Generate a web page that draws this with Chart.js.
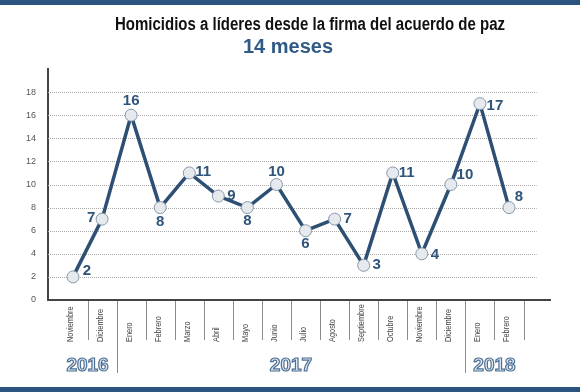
<!DOCTYPE html>
<html>
<head>
<meta charset="utf-8">
<script src="https://cdn.jsdelivr.net/npm/chart.js@4"></script>
<style>
  html, body { margin: 0; padding: 0; background: #fff; }
  #wrap { width: 580px; height: 392px; position: relative; }
</style>
</head>
<body>
<div id="wrap"><canvas id="chart" width="580" height="392"></canvas></div>
<script>
const TITLE = 'Homicidios a líderes desde la firma del acuerdo de paz';
const SUBTITLE = '14 meses';

const MONTHS = ['Noviembre', 'Diciembre', 'Enero', 'Febrero', 'Marzo', 'Abril', 'Mayo', 'Junio',
  'Julio', 'Agosto', 'Septiembre', 'Octubre', 'Noviembre', 'Diciembre', 'Enero', 'Febrero'];
const HOMICIDES = [2, 7, 16, 8, 11, 9, 8, 10, 6, 7, 3, 11, 4, 10, 17, 8];
const Y_TICKS = [0, 2, 4, 6, 8, 10, 12, 14, 16, 18];
// year label, first month index, last month index
const YEARS = [['2016', 0, 1], ['2017', 2, 13], ['2018', 14, 15]];

const BLUE = '#2b5480';
const LINE = '#2d4f74';

// where each value label sits relative to its point (dx, dy in px)
const LABEL_OFFSETS = [
  [14, -6], [-11, -1], [0, -14], [0, 14], [14, -1], [13, 0], [0, 13], [0, -13],
  [0, 13], [13, 0], [13, 0], [14, 0], [13, 1], [14, -10], [15, 2], [10, -11]
];

// squeeze text horizontally to mimic the condensed font of the original
function narrowText(ctx, text, x, y, factor) {
  ctx.fillText(text, x, y, ctx.measureText(text).width * factor);
}

const decorations = {
  id: 'decorations',
  beforeDatasetsDraw(chart) {
    const { ctx, chartArea, scales } = chart;
    const x = scales.x, y = scales.y;
    ctx.save();
    // dotted horizontal grid
    ctx.strokeStyle = '#aaaaaa';
    ctx.lineWidth = 1;
    ctx.setLineDash([1, 1]);
    for (const t of Y_TICKS) {
      if (t === 0) continue;
      const py = Math.round(y.getPixelForValue(t)) + 0.5;
      ctx.beginPath();
      ctx.moveTo(chartArea.left, py);
      ctx.lineTo(x.getPixelForValue(15.95), py);
      ctx.stroke();
    }
    ctx.restore();
  },
  afterDraw(chart) {
    const { ctx, chartArea, scales } = chart;
    const x = scales.x;
    const w = chart.width;
    ctx.save();
    // top and bottom bands
    ctx.fillStyle = BLUE;
    ctx.fillRect(0, 0, w, 5);
    ctx.fillRect(0, 387, w, 5);

    // titles
    ctx.textAlign = 'center';
    ctx.textBaseline = 'alphabetic';
    ctx.fillStyle = '#111';
    ctx.font = 'bold 18px "Liberation Sans", Arial, sans-serif';
    ctx.fillText(TITLE, 310, 30, 390);
    ctx.fillStyle = '#2f5a86';
    ctx.font = 'bold 20px "Liberation Sans", Arial, sans-serif';
    ctx.fillText(SUBTITLE, 288, 53, 95);

    // month dividers under the axis
    const axisY = chartArea.bottom;
    ctx.strokeStyle = '#8c8c8c';
    ctx.lineWidth = 1;
    for (let i = 0; i < MONTHS.length; i++) {
      const px = Math.round(x.getPixelForValue(i + 0.5)) + 0.5;
      const yearBreak = YEARS.some(yr => yr[2] === i && i < MONTHS.length - 1);
      ctx.beginPath();
      ctx.moveTo(px, axisY + 1);
      ctx.lineTo(px, yearBreak ? 373 : 340);
      ctx.stroke();
    }

    // month labels, rotated, starting from a common baseline
    ctx.fillStyle = '#444';
    ctx.font = '9px "Liberation Sans", Arial, sans-serif';
    ctx.textAlign = 'left';
    ctx.textBaseline = 'middle';
    MONTHS.forEach((m, i) => {
      const px = x.getPixelForValue(i);
      ctx.save();
      ctx.translate(px - 2, 342);
      ctx.rotate(-Math.PI / 2);
      narrowText(ctx, m, 0, 0, 0.82);
      ctx.restore();
    });

    // year labels, outlined
    ctx.font = 'bold 19px "Liberation Sans", sans-serif';
    ctx.textAlign = 'center';
    ctx.textBaseline = 'middle';
    ctx.lineWidth = 1.2;
    ctx.strokeStyle = '#4d7096';
    ctx.fillStyle = '#e4eaf1';
    for (const [label, a, b] of YEARS) {
      const px = x.getPixelForValue((a + b) / 2);
      ctx.fillText(label, px, 366);
      ctx.strokeText(label, px, 366);
    }

    // value labels
    const meta = chart.getDatasetMeta(0);
    ctx.fillStyle = '#2e5479';
    ctx.font = 'bold 15px "Liberation Sans", sans-serif';
    ctx.textAlign = 'center';
    ctx.textBaseline = 'middle';
    meta.data.forEach((pt, i) => {
      const [dx, dy] = LABEL_OFFSETS[i];
      ctx.fillText(String(HOMICIDES[i]), pt.x + dx, pt.y + dy);
    });
    ctx.restore();
  }
};

new Chart(document.getElementById('chart'), {
  type: 'line',
  data: {
    datasets: [{
      data: HOMICIDES.map((v, i) => ({ x: i, y: v })),
      borderColor: LINE,
      borderWidth: 3.5,
      pointRadius: 6,
      pointBackgroundColor: '#e6eaef',
      pointBorderColor: '#8697a8',
      pointBorderWidth: 1,
      tension: 0,
      clip: false
    }]
  },
  options: {
    responsive: false,
    animation: false,
    events: [],
    layout: { padding: { top: 69, right: 30, bottom: 92, left: 0 } },
    plugins: { legend: { display: false }, tooltip: { enabled: false } },
    scales: {
      x: {
        type: 'linear',
        min: -0.86,
        max: 16.41,
        ticks: { display: false },
        grid: { display: false },
        border: { display: true, color: '#444', width: 2 },
        afterFit(scale) { scale.height = 0; }
      },
      y: {
        min: 0,
        max: 20,
        afterBuildTicks(scale) { scale.ticks = Y_TICKS.map(v => ({ value: v })); },
        ticks: {
          color: '#555',
          font: { size: 9, family: '"Liberation Sans", Arial, sans-serif' },
          padding: 4
        },
        grid: { display: false },
        border: { display: true, color: '#444', width: 2 },
        afterFit(scale) { scale.width = 48; }
      }
    }
  },
  plugins: [decorations]
});
</script>
</body>
</html>
